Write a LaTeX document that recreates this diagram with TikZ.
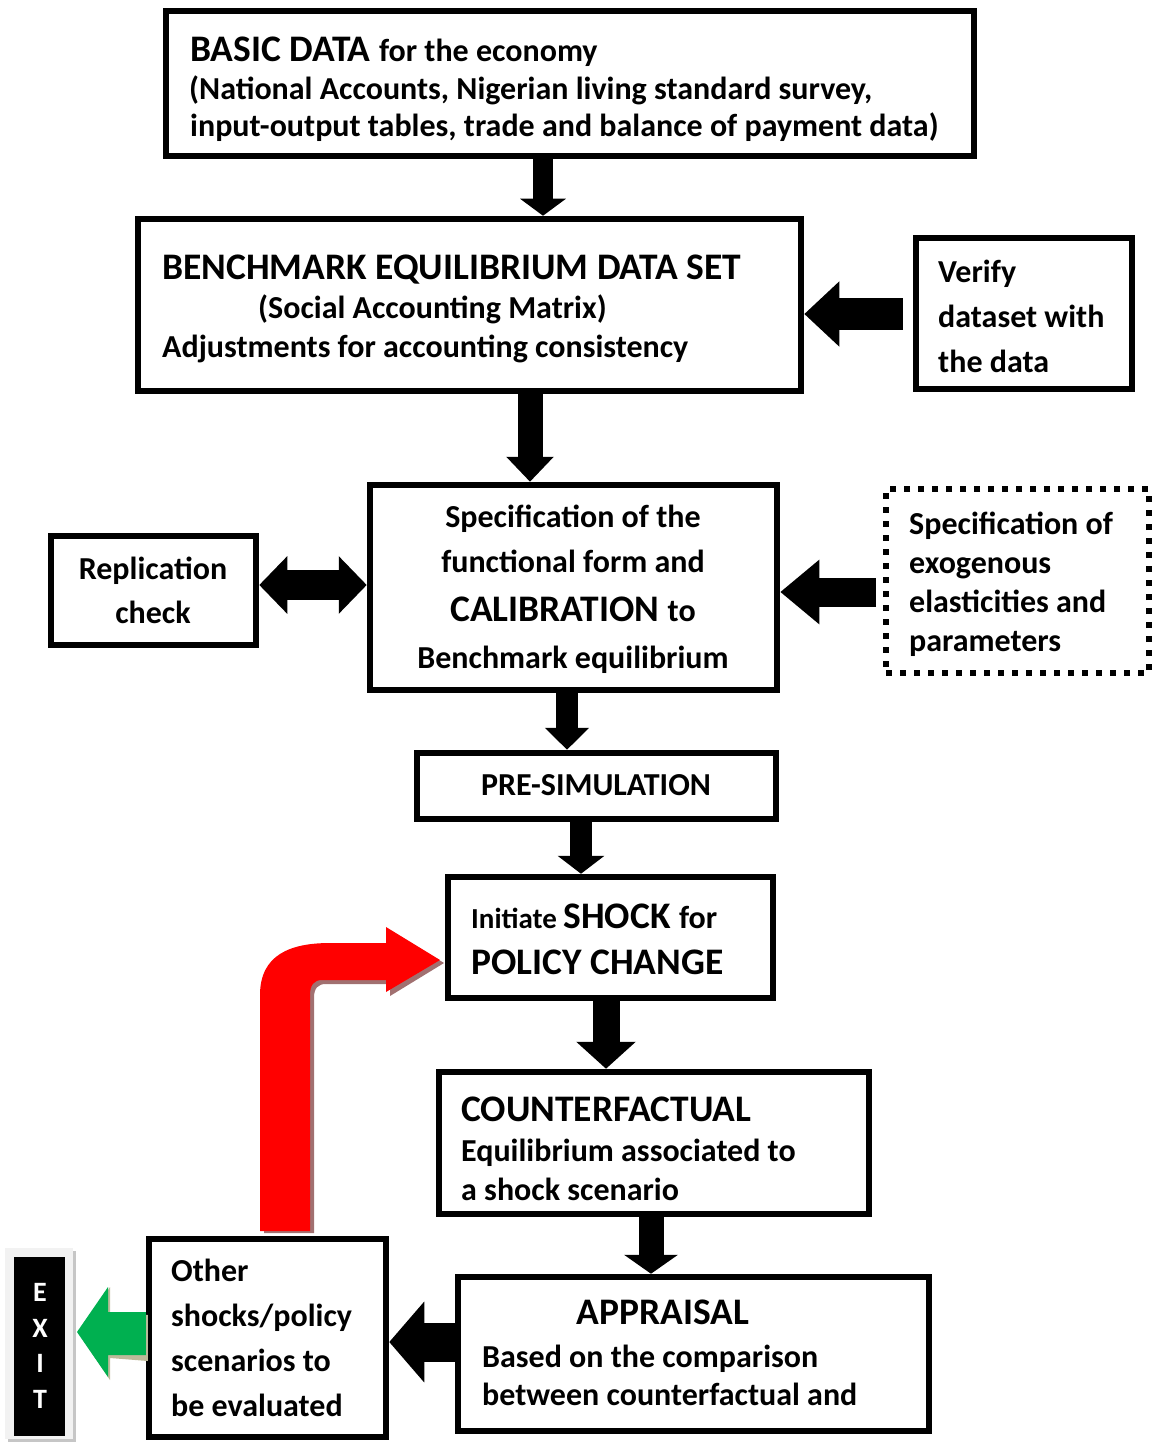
\documentclass[tikz,border=0pt]{standalone}
\usepackage{fontspec}
\setmainfont{Carlito}
\usetikzlibrary{arrows.meta}
\begin{document}
\begin{tikzpicture}[x=1pt,y=-1pt,
  box/.style={draw=black, line width=6.5pt, rectangle, inner sep=0pt},
  dotbox/.style={draw=black, line width=6pt, dash pattern=on 6pt off 8pt, rectangle, inner sep=0pt},
  txt/.style={inner sep=0pt, font=\fontsize{32}{38}\selectfont\bfseries},
  big/.style={inner sep=0pt, font=\fontsize{37.5}{44}\selectfont\bfseries},
  lw/.style={anchor=base west},
  mid/.style={anchor=base},
  exitl/.style={inner sep=0pt, text=white, font=\fontsize{28}{32}\selectfont\bfseries, anchor=base}]
\useasboundingbox (0,0) rectangle (1163,1442);

% ---------- boxes ----------
\node[box, minimum width=808, minimum height=145] (basic) at (570,83.5) {};
\node[box, minimum width=663, minimum height=172] (bench) at (469.5,305) {};
\node[box, minimum width=216, minimum height=151] (verify) at (1024,313.5) {};
\node[box, minimum width=407, minimum height=205] (calib) at (573.5,587.5) {};
\node[box, minimum width=205, minimum height=109] (repl) at (153.5,590.5) {};
\node[dotbox, minimum width=263, minimum height=184] (spec) at (1017.5,581) {};
\node[box, minimum width=359, minimum height=66] (presim) at (596.5,786) {};
\node[box, minimum width=325, minimum height=121] (shock) at (610.5,937.5) {};
\node[box, minimum width=430, minimum height=142] (cfact) at (654,1143) {};
\node[box, minimum width=471, minimum height=154] (appr) at (693.5,1354) {};
\node[box, minimum width=237, minimum height=198] (other) at (267.5,1338) {};

% ---------- texts ----------
\node[txt, lw] (basic1) at (190,62) {\fontsize{37.5}{44}\selectfont BASIC DATA \fontsize{32}{38}\selectfont for the economy};
\node[txt, lw] (basic2) at (189,100) {(National Accounts, Nigerian living standard survey,};
\node[txt, lw] (basic3) at (190,137) {input-output tables, trade and balance of payment data)};

\node[big, lw] (bench1) at (162,279) {BENCHMARK EQUILIBRIUM DATA SET};
\node[txt, lw] (bench2) at (258,318) {(Social Accounting Matrix)};
\node[txt, lw] (bench3) at (162,357) {Adjustments for accounting consistency};

\node[txt, lw] (ver1) at (938,282) {Verify};
\node[txt, lw] (ver2) at (938,327) {dataset with};
\node[txt, lw] (ver3) at (938,372) {the data};

\node[txt, mid] (cal1) at (573,527) {Specification of the};
\node[txt, mid] (cal2) at (573,572) {functional form and};
\node[txt, mid] (cal3) at (573,621) {\fontsize{37.5}{44}\selectfont CALIBRATION \fontsize{32}{38}\selectfont to};
\node[txt, mid] (cal4) at (573,668) {Benchmark equilibrium};

\node[txt, mid] (rep1) at (153,579) {Replication};
\node[txt, mid] (rep2) at (153,623) {check};

\node[txt, lw] (spec1) at (909,534) {Specification of};
\node[txt, lw] (spec2) at (909,573) {exogenous};
\node[txt, lw] (spec3) at (909,612) {elasticities and};
\node[txt, lw] (spec4) at (909,651) {parameters};

\node[txt, mid] (pre1) at (596,795) {PRE-SIMULATION};

\node[txt, lw] (shock1) at (471,928) {\fontsize{29}{34}\selectfont Initiate \fontsize{37.5}{44}\selectfont SHOCK \fontsize{32}{38}\selectfont for};
\node[big, lw] (shock2) at (471,974) {POLICY CHANGE};

\node[big, lw] (cf1) at (461,1121) {COUNTERFACTUAL};
\node[txt, lw] (cf2) at (461,1161) {Equilibrium associated to};
\node[txt, lw] (cf3) at (461,1200) {a shock scenario};

\node[big, mid] (ap1) at (663,1324) {APPRAISAL};
\node[txt, lw] (ap2) at (482,1367) {Based on the comparison};
\node[txt, lw] (ap3) at (482,1405) {between counterfactual and};

\node[txt, lw] (oth1) at (171,1281) {Other};
\node[txt, lw] (oth2) at (171,1326) {shocks/policy};
\node[txt, lw] (oth3) at (171,1371) {scenarios to};
\node[txt, lw] (oth4) at (171,1416) {be evaluated};

% ---------- exit panel ----------
\fill[gray!45] (8,1251) rectangle (76,1442);
\fill[black!5] (5,1248) rectangle (73,1439);
\node[fill=black, minimum width=51, minimum height=179, inner sep=0pt] (exit) at (39.5,1346.5) {};
\node[exitl] (ex1) at (40,1301) {E};
\node[exitl] (ex2) at (40,1337) {X};
\node[exitl] (ex3) at (40,1372) {I};
\node[exitl] (ex4) at (40,1408) {T};

% ---------- black block arrows ----------
\coordinate (c1) at (543,0);
\coordinate (c2) at (530,0);
\coordinate (c3) at (0,314);
\coordinate (c4) at (0,585);
\coordinate (c5) at (0,592);
\coordinate (c6) at (567,0);
\coordinate (c7) at (581,0);
\coordinate (c8) at (606,0);
\coordinate (c9) at (651,0);
\coordinate (c10) at (0,1342);

\draw[line width=20pt, -{Triangle[width=45pt,length=17pt]}] (basic.south -| c1) -- (bench.north -| c1);
\draw[line width=25pt, -{Triangle[width=46pt,length=25pt]}] (bench.south -| c2) -- (calib.north -| c2);
\draw[line width=32pt, -{Triangle[width=63pt,length=35pt]}] ([xshift=-10pt]verify.west |- c3) -- (bench.east |- c3);
\draw[line width=30pt, {Triangle[width=56pt,length=28pt]}-{Triangle[width=56pt,length=28pt]}] (repl.east |- c4) -- (calib.west |- c4);
\draw[line width=29pt, -{Triangle[width=62pt,length=39pt]}] ([xshift=-7pt]spec.west |- c5) -- (calib.east |- c5);
\draw[line width=22pt, -{Triangle[width=43pt,length=22pt]}] (calib.south -| c6) -- (presim.north -| c6);
\draw[line width=22pt, -{Triangle[width=46pt,length=18pt]}] (presim.south -| c7) -- (shock.north -| c7);
\draw[line width=27pt, -{Triangle[width=58pt,length=27pt]}] (shock.south -| c8) -- (cfact.north -| c8);
\draw[line width=25pt, -{Triangle[width=53pt,length=19pt]}] (cfact.south -| c9) -- (appr.north -| c9);
\draw[line width=39pt, -{Triangle[width=79pt,length=35pt]}] (appr.west |- c10) -- (other.east |- c10);

% ---------- green exit arrow ----------
\coordinate (g0) at (other.west |- 0,1333);
\fill[gray!70!olive!60] ([xshift=2pt,yshift=-3pt]g0) ++(0,-21) -- (110,1312) -- (110,1287) -- (79,1334) -- (110,1380) -- (110,1358) -- ([xshift=2pt,yshift=-3pt]g0 |- 0,1358) -- cycle;
\fill[fill={rgb,255:red,0;green,176;blue,80}] (g0 |- 0,1312) -- (108,1312) -- (108,1287) -- (77,1332) -- (108,1377) -- (108,1355) -- (g0 |- 0,1355) -- cycle;

% ---------- red loop-back arrow ----------
\fill[black!40!red!40!gray, opacity=0.8] (264,1233) -- (264,998) .. controls (264,958) and (294,946) .. (334,946) -- (390,946) -- (390,930) -- (444,963) -- (390,996) -- (390,984) -- (326,984) .. controls (318,984) and (314,988) .. (314,998) -- (314,1233) -- cycle;
\fill[red] (260,1231) -- (260,995) .. controls (260,955) and (290,943) .. (330,943) -- (386,943) -- (386,927) -- (440,960) -- (386,992) -- (386,980) -- (322,980) .. controls (314,980) and (310,985) .. (310,995) -- (310,1231) -- cycle;
\end{tikzpicture}
\end{document}
